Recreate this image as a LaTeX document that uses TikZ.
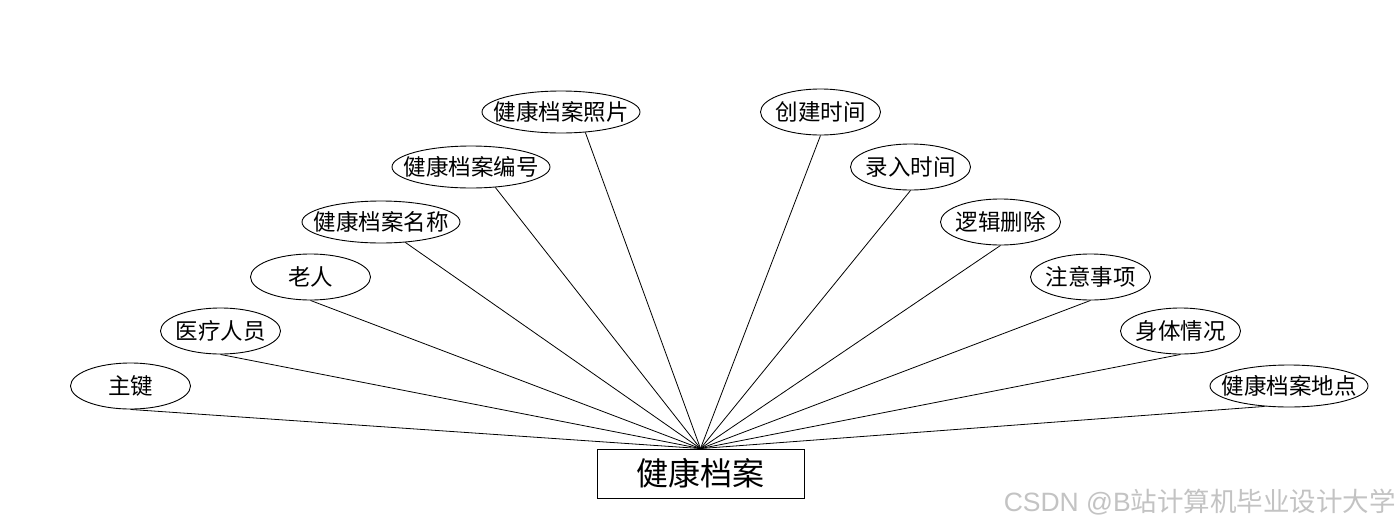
\documentclass[tikz,border=0pt]{standalone}
\usepackage{fontspec}
\newfontfamily\cjk{Noto Sans CJK SC}
\newfontfamily\lat{Liberation Sans}
\usetikzlibrary{shapes.geometric}
\definecolor{wm}{RGB}{195,195,195}
\tikzset{
  attr/.style={draw=black, line width=0.9pt, ellipse, minimum width=120pt, minimum height=46pt, inner sep=0pt},
  wide/.style={attr, minimum width=158pt, minimum height=42pt},
  lbl/.style={font=\cjk\fontsize{22.5}{26}\selectfont},
  entity/.style={draw=black, line width=0.9pt, rectangle, minimum width=207pt, minimum height=49pt, inner sep=0pt, font=\cjk\fontsize{32}{36}\selectfont},
  link/.style={line width=0.8pt, draw=black}
}
\begin{document}
\begin{tikzpicture}[x=1pt,y=-1pt]
\useasboundingbox (0,0) rectangle (1400,528);
\fill[white] (0,0) rectangle (1400,528);
\node[entity] (e) at (700.5,473.5) {健康档案};
% left side
\node[attr, label={[lbl]center:主键}] (a1) at (130.5,386) {};
\node[attr, label={[lbl]center:医疗人员}] (a2) at (220.5,331) {};
\node[attr, label={[lbl]center:老人}] (a3) at (310.5,277) {};
\node[wide, label={[lbl]center:健康档案名称}] (a4) at (381,222) {};
\node[wide, label={[lbl]center:健康档案编号}] (a5) at (471,167) {};
\node[wide, label={[lbl]center:健康档案照片}] (a6) at (561,112) {};
% right side
\node[attr, label={[lbl]center:创建时间}] (b6) at (820.5,112) {};
\node[attr, label={[lbl]center:录入时间}] (b5) at (910.5,167) {};
\node[attr, label={[lbl]center:逻辑删除}] (b4) at (1000.5,222) {};
\node[attr, label={[lbl]center:注意事项}] (b3) at (1090.5,277) {};
\node[attr, label={[lbl]center:身体情况}] (b2) at (1180.5,331) {};
\node[wide, label={[lbl]center:健康档案地点}] (b1) at (1289,386) {};
% connectors
\draw[link] (a1.south) -- (e.north);
\draw[link] (a2.south) -- (e.north);
\draw[link] (a3.south) -- (e.north);
\draw[link] (a4.-40) -- (e.north);
\draw[link] (a5.-40) -- (e.north);
\draw[link] (a6.-40) -- (e.north);
\draw[link] (b6.south) -- (e.north);
\draw[link] (b5.south) -- (e.north);
\draw[link] (b4.south) -- (e.north);
\draw[link] (b3.south) -- (e.north);
\draw[link] (b2.south) -- (e.north);
\draw[link] (b1.-140) -- (e.north);
% watermark
\node[anchor=east, inner sep=0pt, text=wm, font=\cjk\fontsize{26.5}{30}\selectfont] (wmk) at (1396,502) {{\lat CSDN @B}站计算机毕业设计大学};
\end{tikzpicture}
\end{document}
